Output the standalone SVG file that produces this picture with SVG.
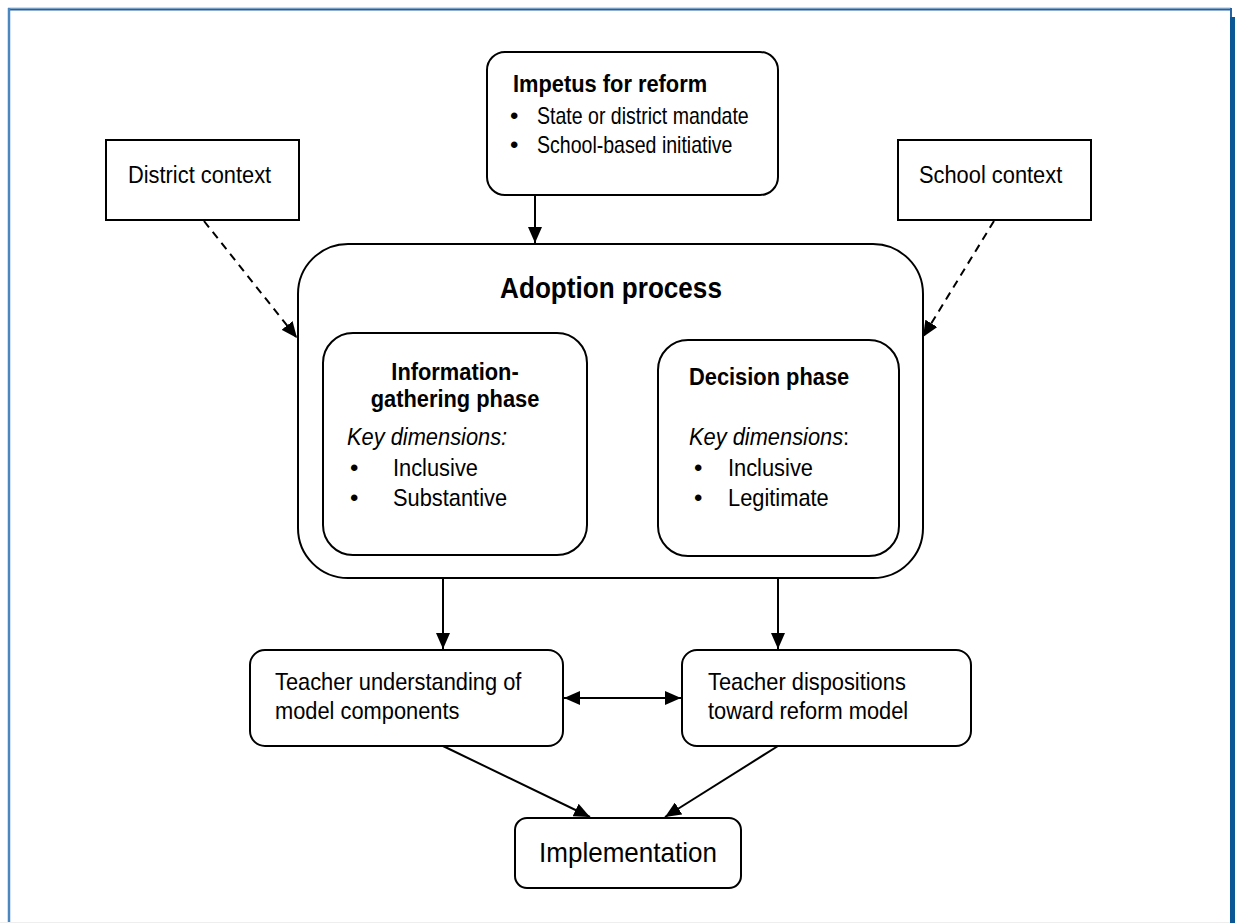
<svg xmlns="http://www.w3.org/2000/svg" width="1235" height="923" viewBox="0 0 1235 923">
<defs>
<style>
.box{fill:#fff;stroke:#000;stroke-width:2}
.t{font-family:"Liberation Sans",Arial,sans-serif;font-size:24px;fill:#000}
.s{font-size:23px}
.b{font-weight:bold}
.i{font-style:italic}
.m{text-anchor:middle}
.ln{stroke:#000;stroke-width:2;fill:none}
.dash{stroke-dasharray:8 6}
</style>
<marker id="ah" markerUnits="userSpaceOnUse" markerWidth="16" markerHeight="14" viewBox="0 0 16 14" refX="16" refY="7" orient="auto-start-reverse">
<path d="M0,0 L16,7 L0,14 Z" fill="#000"/>
</marker>
</defs>
<rect x="0" y="0" width="1235" height="923" fill="#fff"/>
<g id="frame">
<line x1="8" y1="8" x2="1231" y2="8" stroke="#9dbde0" stroke-width="1"/>
<line x1="8" y1="9.5" x2="1231" y2="9.5" stroke="#2463a0" stroke-width="2"/>
<line x1="9" y1="8" x2="9" y2="923" stroke="#4a86bf" stroke-width="2.5"/>
<line x1="1231" y1="8" x2="1231" y2="18" stroke="#2463a0" stroke-width="2"/>
<rect x="1230" y="17" width="5" height="906" fill="#0b5796"/>
<line x1="0" y1="922.5" x2="1230" y2="922.5" stroke="#eeeeee" stroke-width="1"/>
</g>
<g id="connectors">
<line class="ln" x1="535" y1="195" x2="535" y2="243" marker-end="url(#ah)"/>
<line class="ln dash" x1="204" y1="221" x2="297" y2="338" marker-end="url(#ah)"/>
<line class="ln dash" x1="994" y1="221" x2="923" y2="337" marker-end="url(#ah)"/>
<line class="ln" x1="587" y1="460" x2="657" y2="460" marker-end="url(#ah)"/>
<line class="ln" x1="443" y1="555" x2="443" y2="649" marker-end="url(#ah)"/>
<line class="ln" x1="778" y1="556" x2="778" y2="649" marker-end="url(#ah)"/>
<line class="ln" x1="564" y1="698" x2="681" y2="698" marker-start="url(#ah)" marker-end="url(#ah)"/>
<line class="ln" x1="443" y1="746" x2="590" y2="817" marker-end="url(#ah)"/>
<line class="ln" x1="778" y1="746" x2="665" y2="817" marker-end="url(#ah)"/>
</g>
<g id="impetus">
<rect class="box" x="487" y="52" width="291" height="143" rx="18"/>
<text class="t b" transform="translate(513,92) scale(0.91,1)">Impetus for reform</text>
<text class="t" x="510" y="124">•</text>
<text class="t s" transform="translate(537,124) scale(0.85,1)">State or district mandate</text>
<text class="t" x="510" y="153">•</text>
<text class="t s" transform="translate(537,153) scale(0.85,1)">School-based initiative</text>
</g>
<g id="district">
<rect class="box" x="106" y="140" width="193" height="80"/>
<text class="t" transform="translate(128,183) scale(0.91,1)">District context</text>
</g>
<g id="school">
<rect class="box" x="898" y="140" width="193" height="80"/>
<text class="t" transform="translate(919,183) scale(0.91,1)">School context</text>
</g>
<g id="adoption">
<rect class="box" x="298" y="244" width="625" height="334" rx="50" fill="none"/>
<text class="t b m" transform="translate(611,298) scale(0.9,1)" style="font-size:29px">Adoption process</text>
</g>
<g id="info">
<rect class="box" x="323" y="333" width="264" height="222" rx="30"/>
<text class="t b m" transform="translate(455,380) scale(0.91,1)">Information-</text>
<text class="t b m" transform="translate(455,407) scale(0.91,1)">gathering phase</text>
<text class="t i" transform="translate(347,445) scale(0.91,1)">Key dimensions:</text>
<text class="t" x="350" y="476">•</text>
<text class="t" transform="translate(393,476) scale(0.91,1)">Inclusive</text>
<text class="t" x="350" y="506">•</text>
<text class="t" transform="translate(393,506) scale(0.91,1)">Substantive</text>
</g>
<g id="decision">
<rect class="box" x="658" y="340" width="241" height="216" rx="30"/>
<text class="t b" transform="translate(689,385) scale(0.91,1)">Decision phase</text>
<text class="t" transform="translate(689,445) scale(0.91,1)"><tspan class="i">Key dimensions</tspan>:</text>
<text class="t" x="694" y="476">•</text>
<text class="t" transform="translate(728,476) scale(0.91,1)">Inclusive</text>
<text class="t" x="694" y="506">•</text>
<text class="t" transform="translate(728,506) scale(0.91,1)">Legitimate</text>
</g>
<g id="understanding">
<rect class="box" x="250" y="650" width="313" height="96" rx="15"/>
<text class="t" transform="translate(275,690) scale(0.91,1)">Teacher understanding of</text>
<text class="t" transform="translate(275,719) scale(0.91,1)">model components</text>
</g>
<g id="dispositions">
<rect class="box" x="682" y="650" width="289" height="96" rx="15"/>
<text class="t" transform="translate(708,690) scale(0.91,1)">Teacher dispositions</text>
<text class="t" transform="translate(708,719) scale(0.91,1)">toward reform model</text>
</g>
<g id="implementation">
<rect class="box" x="515" y="818" width="226" height="70" rx="12"/>
<text class="t m" transform="translate(628,862) scale(0.93,1)" style="font-size:28px">Implementation</text>
</g>
</svg>
